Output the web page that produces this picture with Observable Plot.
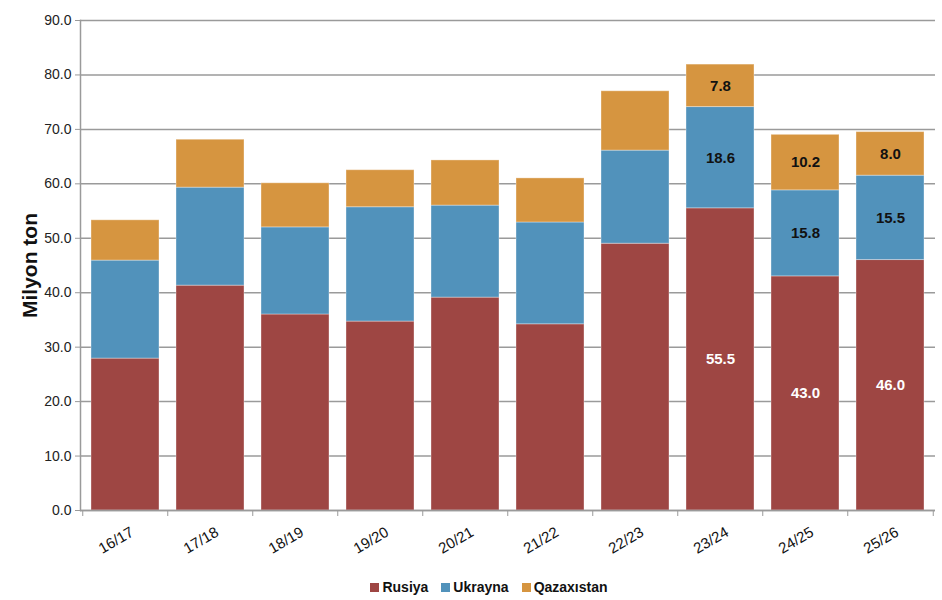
<!DOCTYPE html>
<html>
<head>
<meta charset="utf-8">
<script src="https://cdn.jsdelivr.net/npm/d3@7"></script>
<script src="https://cdn.jsdelivr.net/npm/@observablehq/plot@0.6"></script>
<style>
  body { margin: 0; background: #fff; font-family: "Liberation Sans Narrow", "Arial Narrow", "Liberation Sans", Arial, sans-serif; }
  #chart svg { display: block; }
  #legend { display: flex; justify-content: center; gap: 13px; margin-left: 36px; height: 34px; align-items: center;
            font-family: "Liberation Sans Narrow", "Arial Narrow", "Liberation Sans", Arial, sans-serif; font-weight: bold; font-size: 14px; color: #111; }
  #legend span.item { display: flex; align-items: center; gap: 3px; }
  #legend span.sw { width: 9px; height: 9px; display: inline-block; }
</style>
</head>
<body>
<div id="chart"></div>
<div id="legend"></div>
<script>
const seasons = ["16/17","17/18","18/19","19/20","20/21","21/22","22/23","23/24","24/25","25/26"];
const rusiya     = [27.9, 41.3, 36.0, 34.7, 39.1, 34.2, 49.0, 55.5, 43.0, 46.0];
const ukrayna    = [18.0, 18.0, 16.0, 21.0, 16.9, 18.7, 17.1, 18.6, 15.8, 15.5];
const qazaxistan = [ 7.4,  8.8,  8.1,  6.8,  8.3,  8.1, 10.9,  7.8, 10.2,  8.0];
const seriesNames = ["Rusiya", "Ukrayna", "Qazaxıstan"];
const seriesColors = ["#9e4643", "#5192bb", "#d69540"];
const labelledSeasons = ["23/24", "24/25", "25/26"];
const yTicks = [0, 10, 20, 30, 40, 50, 60, 70, 80, 90];
const yTitle = "Milyon ton";

const seriesValues = [rusiya, ukrayna, qazaxistan];
const rows = [];
seasons.forEach((s, i) => {
  seriesNames.forEach((name, k) => rows.push({season: s, series: name, value: seriesValues[k][i]}));
});

const W = 942, H = 570, ML = 80, MR = 7, MT = 20, MB = 60;
const step = (W - ML - MR) / seasons.length;
const fmt = d3.format(".1f");
const labelText = (want) => d => (labelledSeasons.includes(d.season) && want(d.series)) ? fmt(d.value) : "";
const tickFont = "Liberation Sans Narrow, Arial Narrow, Liberation Sans, Arial, sans-serif";

const plot = Plot.plot({
  width: W, height: H,
  marginLeft: ML, marginRight: MR, marginTop: MT, marginBottom: MB,
  style: {fontFamily: tickFont, background: "#fff", color: "#222"},
  x: {domain: seasons, paddingInner: 0.2, paddingOuter: 0.1, axis: null},
  y: {domain: [0, 90], axis: null},
  color: {domain: seriesNames, range: seriesColors},
  marks: [
    Plot.gridY(yTicks, {stroke: "#9a9a9a", strokeOpacity: 1, strokeWidth: 1.5}),
    Plot.barY(rows, {x: "season", y: "value", fill: "series", z: "series", order: seriesNames,
                     stroke: "#ffffff", strokeOpacity: 0.35, strokeWidth: 1}),
    Plot.text(rows, Plot.stackY({x: "season", y: "value", z: "series", order: seriesNames,
      text: labelText(s => s === "Rusiya"), fill: "white", fontWeight: "bold", fontSize: 15})),
    Plot.text(rows, Plot.stackY({x: "season", y: "value", z: "series", order: seriesNames,
      text: labelText(s => s !== "Rusiya"), fill: "#111", fontWeight: "bold", fontSize: 15})),
    Plot.ruleY([0], {stroke: "#9a9a9a", strokeWidth: 1.5}),
    Plot.frame({anchor: "left", stroke: "#9a9a9a", strokeWidth: 1.5}),
    Plot.axisY({ticks: yTicks, tickFormat: fmt, tickSize: 5, tickPadding: 4, label: null,
                fontSize: 14, stroke: "#9a9a9a", fill: "#222"}),
    Plot.axisX({ticks: seasons, tickFormat: () => "", tickSize: 6, dx: -step / 2, label: null, stroke: "#9a9a9a"}),
    Plot.axisX({ticks: [seasons[seasons.length - 1]], tickFormat: () => "", tickSize: 6, dx: step / 2, label: null, stroke: "#9a9a9a"}),
    Plot.text(seasons, {x: d => d, text: d => d, frameAnchor: "bottom", dy: 34, dx: -7, rotate: -30,
                        fontSize: 15, fill: "#111"}),
    Plot.text([yTitle], {text: d => d, frameAnchor: "left", textAnchor: "middle", dx: -50, rotate: -90,
                         fontSize: 21, fontWeight: "bold", fill: "#111",
                         fontFamily: "Liberation Sans, Arial, sans-serif"})
  ]
});
document.getElementById("chart").appendChild(plot);

const legend = document.getElementById("legend");
seriesNames.forEach((name, k) => {
  const item = document.createElement("span");
  item.className = "item";
  const sw = document.createElement("span");
  sw.className = "sw";
  sw.style.background = seriesColors[k];
  const t = document.createElement("span");
  t.textContent = name;
  item.appendChild(sw); item.appendChild(t);
  legend.appendChild(item);
});
</script>
</body>
</html>
